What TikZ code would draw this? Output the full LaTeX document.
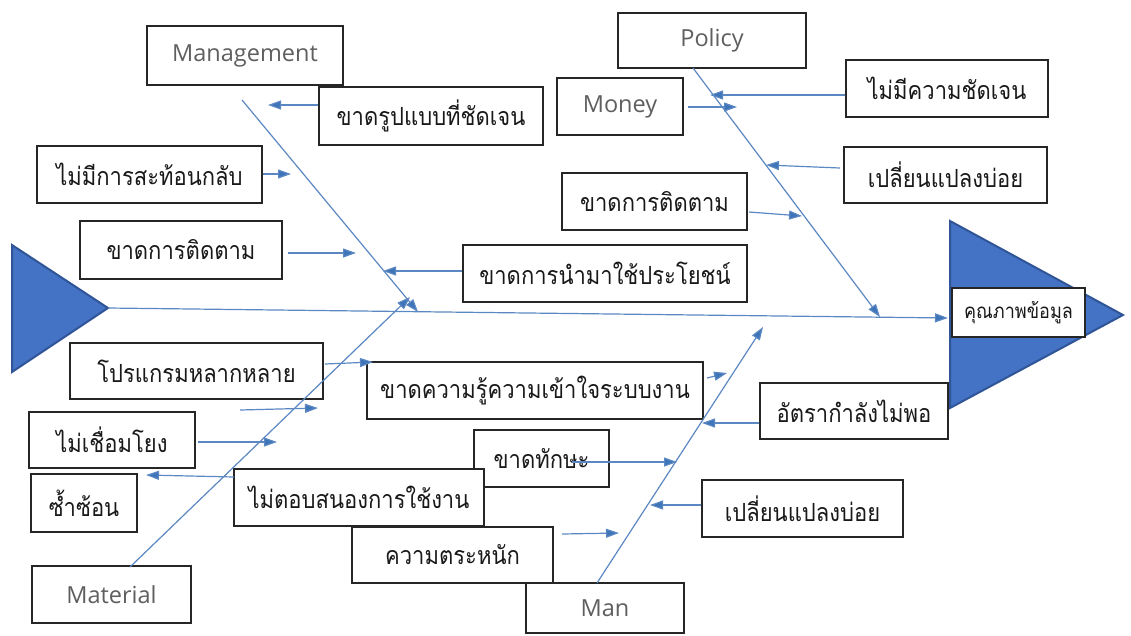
\documentclass[tikz,border=0pt]{standalone}
\usepackage{fontspec}
\setmainfont{Open Sans}
\newfontfamily\thai[Script=Thai,FakeStretch=0.88]{Loma}
\usetikzlibrary{arrows.meta}
\definecolor{bone}{HTML}{5B87C2}
\definecolor{tipc}{HTML}{3E74B8}
\definecolor{headfill}{HTML}{4472C4}
\definecolor{headdraw}{HTML}{2F5597}
\definecolor{latin}{HTML}{5F5F5F}
\begin{document}
\begin{tikzpicture}[x=1pt,y=-1pt,
  box/.style={draw=black!85, line width=1.3pt, fill=white, inner sep=0pt,
    font=\thai\fontsize{25}{27}\selectfont, text=black!90},
  cat/.style={box, font=\fontsize{23.5}{26}\selectfont, text=latin},
  small/.style={box, font=\thai\fontsize{20.5}{22}\selectfont},
  conn/.style={draw=bone, line width=1.2pt, -{Triangle[length=13pt,width=9pt,fill=tipc]}},
  fish/.style={fill=headfill, draw=headdraw, line width=2pt, line join=miter},
]
\useasboundingbox (0,0) rectangle (1131,635);

% heads
\draw[fish] (950,221) -- (1123,315) -- (950,408) -- cycle;
\draw[fish] (12,245) -- (108,308) -- (12,372) -- cycle;
\coordinate (tail) at (108,308);
\coordinate (head) at (948,318);

% boxes
\node[cat, minimum width=196pt, minimum height=59pt] (mgm) at (245,55.5) {Management};
\node[box, minimum width=224pt, minimum height=58pt] (rup) at (431,116) {ขาดรูปแบบที่ชัดเจน};
\node[box, minimum width=225pt, minimum height=57pt] (sat) at (149.5,174.5) {ไม่มีการสะท้อนกลับ};
\node[cat, minimum width=188pt, minimum height=55pt] (pol) at (712,40.5) {Policy};
\node[cat, minimum width=126pt, minimum height=57pt] (mon) at (620,106.5) {Money};
\node[box, minimum width=185pt, minimum height=57pt] (tdR) at (654.5,201.5) {ขาดการติดตาม};
\node[box, minimum width=202pt, minimum height=57pt] (chd) at (947,88.5) {ไม่มีความชัดเจน};
\node[box, minimum width=203pt, minimum height=56pt] (plT) at (945.5,175) {เปลี่ยนแปลงบ่อย};
\node[box, minimum width=202pt, minimum height=58pt] (tdL) at (181,250) {ขาดการติดตาม};
\node[box, minimum width=284pt, minimum height=57pt] (use) at (605,273.5) {ขาดการนำมาใช้ประโยชน์};
\node[box, minimum width=253pt, minimum height=56pt] (pro) at (196.5,371) {โปรแกรมหลากหลาย};
\node[box, minimum width=336pt, minimum height=57pt] (knw) at (535,390.5) {ขาดความรู้ความเข้าใจระบบงาน};
\node[box, minimum width=188pt, minimum height=56pt] (rate) at (854,411) {อัตรากำลังไม่พอ};
\node[box, minimum width=166pt, minimum height=56pt] (con) at (112,440) {ไม่เชื่อมโยง};
\node[box, minimum width=106pt, minimum height=58pt] (dup) at (84,503) {ซ้ำซ้อน};
\node[box, minimum width=135pt, minimum height=57pt] (skl) at (541.5,458.5) {ขาดทักษะ};
\node[box, minimum width=250pt, minimum height=57pt] (nre) at (359,497.5) {ไม่ตอบสนองการใช้งาน};
\node[box, minimum width=201pt, minimum height=56pt] (awr) at (452.5,555) {ความตระหนัก};
\node[cat, minimum width=158pt, minimum height=50pt] (man) at (605,608) {Man};
\node[box, minimum width=201pt, minimum height=57pt] (plB) at (802.5,508.5) {เปลี่ยนแปลงบ่อย};
\node[cat, minimum width=159pt, minimum height=57pt] (mat) at (111.5,594.5) {Material};
\node[small, minimum width=133pt, minimum height=49pt] (qual) at (1018.5,312.5) {คุณภาพข้อมูล};

% bone coordinates
\coordinate (mgS) at (242,100);  \coordinate (mgE) at (418,312);
\coordinate (poS) at (693,68);   \coordinate (poE) at (880,317);
\coordinate (maS) at (130,567);  \coordinate (maE) at (410,297);
\coordinate (mnS) at (597,583);  \coordinate (mnE) at (763,327);

% spine and bones
\draw[conn] (tail) -- (head);
\draw[conn] (mgS) -- (mgE);
\draw[conn] (poS) -- (poE);
\draw[conn] (maS) -- (maE);
\draw[conn] (mnS) -- (mnE);

% cause arrows
\coordinate (t1) at (268,105);  \draw[conn] (rup.west |- t1) -- (t1);
\coordinate (t2) at (291,174);  \draw[conn] (sat.east |- t2) -- (t2);
\coordinate (t3) at (356,253);  \draw[conn] ([xshift=5pt]tdL.east |- t3) -- (t3);
\coordinate (t4) at (383,271);  \draw[conn] (use.west |- t4) -- (t4);
\coordinate (t5) at (737,107);  \draw[conn] ([xshift=4pt]mon.east |- t5) -- (t5);
\coordinate (t6) at (710,95);   \draw[conn] (chd.west |- t6) -- (t6);
\coordinate (s7) at (840,168);  \coordinate (t7) at (766,165); \draw[conn] (s7) -- (t7);
\coordinate (s8) at (749,212);  \coordinate (t8) at (802,216); \draw[conn] (s8) -- (t8);
\coordinate (s11) at (325,364); \coordinate (t11) at (373,362); \draw[conn] (s11) -- (t11);
\coordinate (s12) at (707,378); \coordinate (t12) at (727,373); \draw[conn] (s12) -- (t12);
\coordinate (s13) at (240,410); \coordinate (t13) at (318,408); \draw[conn] (s13) -- (t13);
\coordinate (t14) at (277,442); \draw[conn] ([xshift=2pt]con.east |- t14) -- (t14);
\coordinate (s15) at (234,477); \coordinate (t15) at (146,475); \draw[conn] (s15) -- (t15);
\coordinate (s16) at (572,462); \coordinate (t16) at (677,462); \draw[conn] (s16) -- (t16);
\coordinate (t17) at (650,505); \draw[conn] (plB.west |- t17) -- (t17);
\coordinate (s18) at (562,534); \coordinate (t18) at (619,533); \draw[conn] (s18) -- (t18);
\coordinate (t19) at (702,423); \draw[conn] (rate.west |- t19) -- (t19);
\end{tikzpicture}
\end{document}
